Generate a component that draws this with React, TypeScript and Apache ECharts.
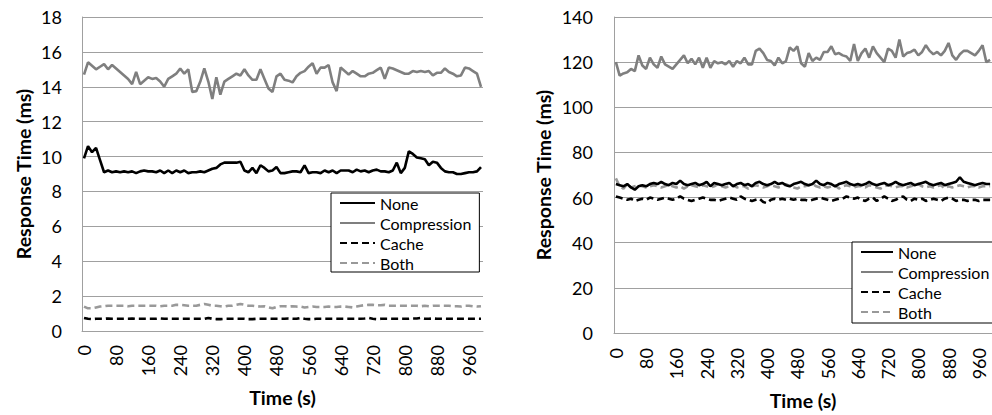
import React, { useEffect, useRef } from "react";
import * as echarts from "echarts";

const times: string[] = [];
for (let t = 0; t <= 990; t += 10) times.push(String(t));

const seriesNames = ["None", "Compression", "Cache", "Both"];

const leftNone = [9.9,10.6,10.25,10.5,9.8,9.1,9.2,9.1,9.15,9.1,
9.15,9.1,9.15,9.05,9.15,9.2,9.15,9.15,9.1,9.2,
9.05,9.2,9.05,9.2,9.1,9.2,9.05,9.1,9.1,9.15,
9.1,9.2,9.3,9.35,9.55,9.65,9.65,9.65,9.65,9.7,
9.2,9.1,9.35,9.05,9.5,9.35,9.15,9.2,9.4,9.05,
9.05,9.1,9.15,9.15,9.1,9.5,9.05,9.1,9.1,9.05,
9.2,9.1,9.2,9.05,9.2,9.2,9.2,9.1,9.25,9.15,
9.2,9.1,9.2,9.25,9.15,9.15,9.1,9.2,9.65,9.05,
9.35,10.3,10.15,9.95,9.9,9.85,9.5,9.7,9.65,9.35,
9.15,9.1,9.1,9.0,9.0,9.05,9.1,9.1,9.15,9.4];

const leftCompression = [14.7,15.4,15.2,15.0,15.15,15.3,15.0,15.25,15.05,14.85,
14.65,14.45,14.15,14.85,14.15,14.35,14.55,14.45,14.5,14.3,
14.0,14.45,14.6,14.75,15.05,14.75,15.0,13.7,13.75,14.3,
15.05,14.3,13.3,14.55,13.55,14.3,14.45,14.6,14.75,14.65,
15.0,14.65,14.4,14.4,15.0,14.45,13.9,13.7,14.6,14.75,
14.4,14.35,14.25,14.6,14.8,14.9,15.15,15.35,14.75,15.1,
15.1,15.25,14.25,13.75,15.1,14.9,14.7,14.9,14.75,14.6,
14.6,14.75,14.8,14.95,15.1,14.45,15.1,15.05,14.95,14.85,
14.75,14.75,14.9,14.85,14.9,14.85,14.9,14.65,14.8,14.8,
15.05,14.85,14.75,14.6,14.65,15.1,15.05,14.9,14.75,14.0];

const leftCache = [0.75,0.7,0.68,0.7,0.7,0.7,0.72,0.7,0.7,0.7,
0.7,0.7,0.72,0.7,0.7,0.7,0.7,0.7,0.7,0.72,
0.7,0.7,0.7,0.7,0.7,0.7,0.7,0.7,0.7,0.7,
0.7,0.75,0.7,0.68,0.68,0.7,0.7,0.7,0.7,0.7,
0.7,0.68,0.68,0.7,0.7,0.7,0.7,0.7,0.7,0.7,
0.7,0.72,0.7,0.7,0.75,0.7,0.68,0.68,0.7,0.7,
0.7,0.7,0.7,0.7,0.7,0.7,0.7,0.7,0.7,0.7,
0.72,0.75,0.7,0.68,0.7,0.7,0.7,0.7,0.7,0.7,
0.7,0.7,0.72,0.72,0.75,0.7,0.7,0.72,0.7,0.7,
0.7,0.7,0.7,0.7,0.7,0.7,0.7,0.7,0.7,0.7];

const leftBoth = [1.4,1.3,1.3,1.35,1.4,1.42,1.45,1.45,1.45,1.45,
1.45,1.42,1.45,1.45,1.45,1.45,1.45,1.45,1.45,1.42,
1.45,1.45,1.45,1.5,1.5,1.48,1.45,1.45,1.45,1.5,
1.55,1.5,1.45,1.45,1.42,1.4,1.45,1.45,1.5,1.55,
1.5,1.45,1.45,1.42,1.4,1.42,1.35,1.3,1.38,1.42,
1.42,1.4,1.42,1.4,1.4,1.35,1.38,1.4,1.38,1.38,
1.38,1.4,1.38,1.38,1.4,1.4,1.38,1.35,1.4,1.45,
1.48,1.5,1.5,1.48,1.48,1.5,1.45,1.45,1.45,1.45,
1.45,1.45,1.45,1.45,1.42,1.45,1.42,1.45,1.45,1.45,
1.45,1.45,1.42,1.42,1.4,1.45,1.45,1.42,1.4,1.42];

const rightNone = [66,65.5,65,66,64.5,63.5,65,65.5,65,66,
66.5,66,67,66,65.5,66.5,66,67.5,66,65.5,
66,66.5,65.5,66,67,65,66.5,66,65.5,66,
66.5,65,66,66.5,65.5,66,65,66.5,67,66,
65.5,66,67,66,66.5,65.5,65,66,66.5,67,
66,65.5,66,67.5,66,65.5,66.5,66,65,66,
66.5,67,66,65.5,66,65.5,66,67,66,65.5,
66,66.5,65.5,66,67,66,65.5,66,66.5,65.5,
66,66.5,67,66,65.5,66,66.5,65.5,66,66.5,
67,69,67,66.5,66,65.5,66,66.5,66,66];

const rightCompression = [120,114,115,115.5,117,116,123,118.5,117,122,
119,117.5,122.5,119,118,117,119,121,123,119.5,
121.5,119,122,117.5,122,117.5,120.5,119.5,120,119,
120.5,118,120.5,119.5,122,119,119,125,126,124,
121,120.5,118.5,122,119.5,120.5,126.5,125,127,119.5,
118,124,120.5,122,121,124.5,124.5,127,123.5,124,
123,122.5,120.5,128,120.5,124,126,122,127,124,
122,120,126,125,122,130,122.5,124,124.5,125.5,
123,124.5,127.5,125,123.5,124.5,123,125,128.5,123,
121,123.5,125,125,124,123,125,127.5,120,121];

const rightCache = [60.5,60,59.5,59,59.5,58.5,59,59.5,59,60,
59.5,59,59.5,60,59.5,59,59.5,60.5,59.5,59,
58.5,59,59.5,60,59.5,59,59,58.5,59,59.5,
60,59.5,59,60.5,59.5,59,58.5,59,59.5,58,
57.5,59,59.5,59,59.5,59,59.5,59,59.5,59,
59,58.5,59,59.5,60,59.5,59,58.5,59,59.5,
59.5,60.5,60,59.5,60,59,58.5,59.5,60,58.5,
59.5,60.5,59.5,58.5,59,60,60.5,59,58.5,59.5,
59,59.5,58.5,59,59.5,59,58.5,59.5,60,59.5,
58.5,59,59,58.5,59,59,58.5,59,59,59];

const rightBoth = [68.5,65,64,66,64.5,65,65.5,65,64.5,65,
65.5,65,64.5,65,65.5,65,64.5,65,64,65,
65.5,65,64.5,65.5,65,64.5,65,66,65,64.5,
65,65.5,64.5,65,65,64,65,65.5,65,64.5,
65,65.5,65,64.5,65,66,65,64.5,64,65,
65,65.5,66,65,64.5,65,64.5,65,65.5,64,
65,65.5,65,64.5,65,65,64.5,65.5,65,64.5,
64,65,65.5,65,64.5,65,65,64.5,65,65.5,
66,65,64.5,65,64.5,65,65.5,64,65,64.5,
65,65.5,65,64.5,65,65,64.5,65,65,65];

const FONT = "Lato";
const colors = ["#000000", "#7f7f7f", "#000000", "#999999"];
const dashes: any[] = ["solid", "solid", [7, 4], [7, 4]];

export default function App() {
  const ref = useRef<HTMLDivElement>(null);
  useEffect(() => {
    if (!ref.current) return;
    const chart = echarts.init(ref.current, undefined, { renderer: "svg" });
    const mkY = (grid: number, max: number, interval: number, nameGap: number, margin: number) => ({
      type: "value",
      gridIndex: grid,
      min: 0,
      max,
      interval,
      name: "Response Time (ms)",
      nameLocation: "middle",
      nameGap,
      nameTextStyle: { fontFamily: FONT, fontSize: 19.5, fontWeight: "bold", color: "#000" },
      axisLine: { show: true, lineStyle: { color: "#a0a0a0", width: 1 } },
      axisTick: { show: false },
      axisLabel: { fontFamily: FONT, fontSize: 18, color: "#000", margin },
      splitLine: { show: true, lineStyle: { color: "#a0a0a0", width: 1 } },
    });
    const mkX = (grid: number, margin: number, nameGap: number) => ({
      type: "category",
      gridIndex: grid,
      data: times,
      boundaryGap: true,
      name: "Time (s)",
      nameLocation: "middle",
      nameGap,
      nameTextStyle: { fontFamily: FONT, fontSize: 19.5, fontWeight: "bold", color: "#000" },
      axisLine: { show: true, lineStyle: { color: "#a0a0a0", width: 1 } },
      axisTick: { show: false },
      axisLabel: { fontFamily: FONT, fontSize: 18, color: "#000", rotate: 90, interval: 7, margin },
      splitLine: { show: false },
    });
    const sets = [
      [leftNone, leftCompression, leftCache, leftBoth],
      [rightNone, rightCompression, rightCache, rightBoth],
    ];
    const series: any[] = [];
    sets.forEach((set, g) => {
      set.forEach((vals, i) => {
        series.push({
          type: "line",
          name: seriesNames[i],
          xAxisIndex: g,
          yAxisIndex: g,
          data: vals,
          symbol: "none",
          showSymbol: false,
          lineStyle: { color: colors[i], width: 2.6, type: dashes[i] },
          itemStyle: { color: colors[i] },
          z: i === 1 || i === 0 ? 3 : 2,
        });
      });
    });
    const mkLegend = (left: number, top: number, iw: number, pad: number[]) => ({
      data: seriesNames,
      orient: "vertical",
      left,
      top,
      itemWidth: iw,
      itemHeight: 15,
      itemGap: 4,
      padding: pad,
      borderColor: "#000",
      borderWidth: 1,
      backgroundColor: "#fff",
      itemStyle: { opacity: 0, borderWidth: 0 },
      textStyle: { fontFamily: FONT, fontSize: 16, color: "#000" },
      selectedMode: false,
    });
    chart.setOption({
      animation: false,
      backgroundColor: "#fff",
      grid: [
        { left: 82, top: 17, width: 401, height: 314 },
        { left: 614, top: 17, width: 382, height: 320 },
      ],
      xAxis: [mkX(0, 14, 56), mkX(1, 15, 57)],
      yAxis: [mkY(0, 18, 2, 49, 20), mkY(1, 140, 20, 61, 21)],
      legend: [
        mkLegend(331, 193, 35, [2, 8, 1, 8]),
        mkLegend(852, 242, 32, [2, 8, 3, 8]),
      ],
      series,
    });
    return () => chart.dispose();
  }, []);
  return (
    <div
      ref={ref}
      style={{ position: "absolute", left: 0, top: 0, width: 992, height: 415 }}
    />
  );
}
